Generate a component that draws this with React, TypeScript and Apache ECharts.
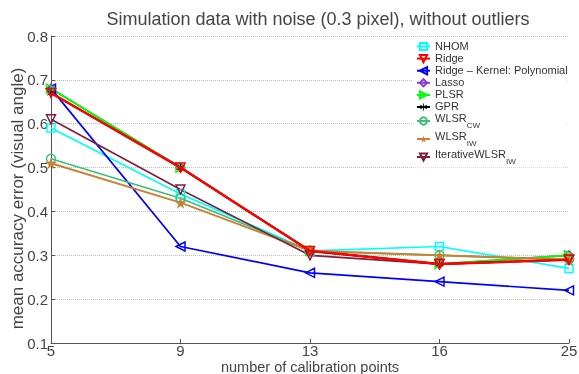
import React, { useEffect, useRef } from "react";
import * as echarts from "echarts";

const categories = ["5", "9", "13", "16", "25"];
const nhom = [0.59, 0.44, 0.31, 0.32, 0.27];
const ridge = [0.67, 0.5, 0.31, 0.28, 0.29];
const ridgeKernel = [0.68, 0.32, 0.26, 0.24, 0.22];
const lasso = [0.68, 0.5, 0.31, 0.28, 0.3];
const plsr = [0.68, 0.5, 0.31, 0.28, 0.3];
const gpr = [0.67, 0.5, 0.31, 0.28, 0.29];
const wlsrCW = [0.52, 0.43, 0.31, 0.3, 0.29];
const wlsrIW = [0.51, 0.42, 0.31, 0.3, 0.29];
const iterWlsrIW = [0.61, 0.45, 0.3, 0.28, 0.29];

const STAR =
  "path://M50 0 L61 35 L98 35 L68 57 L79 91 L50 70 L21 91 L32 57 L2 35 L39 35 Z";
const ASTER =
  "path://M45 0 H55 V38 L88 19 L93 28 L60 47 V53 L93 72 L88 81 L55 62 V100 H45 V62 L12 81 L7 72 L40 53 V47 L7 28 L12 19 L45 38 Z";

type S = {
  name: string;
  data: number[];
  color: string;
  symbol: string;
  rotate?: number;
  size?: number;
  width?: number;
  filled?: boolean;
  z?: number;
};

const seriesDefs: S[] = [
  { name: "NHOM", data: nhom, color: "#00ffff", symbol: "rect", size: 8 },
  { name: "Ridge", data: ridge, color: "#ff0000", symbol: "triangle", rotate: 180, width: 2.5, z: 5 },
  { name: "Ridge – Kernel: Polynomial", data: ridgeKernel, color: "#0000ff", symbol: "triangle", rotate: 90 },
  { name: "Lasso", data: lasso, color: "#8a3fd0", symbol: "diamond" },
  { name: "PLSR", data: plsr, color: "#00ff00", symbol: "triangle", rotate: -90, width: 2 },
  { name: "GPR", data: gpr, color: "#000000", symbol: ASTER, filled: true, size: 8 },
  { name: "WLSR_CW", data: wlsrCW, color: "#3cc07c", symbol: "circle" },
  { name: "WLSR_IW", data: wlsrIW, color: "#cc8033", symbol: STAR, filled: true, size: 12, width: 2 },
  { name: "IterativeWLSR_IW", data: iterWlsrIW, color: "#7f1f3a", symbol: "triangle", rotate: 180 },
];

function legendFormat(name: string): string {
  const i = name.indexOf("_");
  if (i < 0) return `{a|${name}}`;
  return `{a|${name.slice(0, i)}}{s|${name.slice(i + 1)}}`;
}

export default function App() {
  const ref = useRef<HTMLDivElement>(null);
  useEffect(() => {
    if (!ref.current) return;
    const chart = echarts.init(ref.current, undefined, { renderer: "svg" });
    const font = "'Liberation Sans', Arial, Helvetica, sans-serif";
    chart.setOption({
      animation: false,
      textStyle: { fontFamily: font },
      title: {
        text: "Simulation data with noise (0.3 pixel), without outliers",
        left: 313,
        textAlign: "center",
        top: 5,
        textStyle: { fontSize: 18, fontWeight: "normal", color: "#444", fontFamily: font },
      },
      grid: { left: 51, right: 10, top: 36, bottom: 31, containLabel: false, outerBoundsMode: "none" },
      legend: {
        orient: "vertical",
        left: 413,
        top: 38,
        backgroundColor: "#ffffff",
        padding: [2, 0, 2, 3],
        itemWidth: 13,
        itemHeight: 9,
        itemGap: 1,
        formatter: legendFormat,
        textStyle: {
          color: "#333",
          fontSize: 11,
          fontFamily: font,
          rich: {
            a: { fontSize: 11, fontFamily: font, color: "#333", lineHeight: 13, verticalAlign: "top" },
            s: { fontSize: 8, fontFamily: font, color: "#333", lineHeight: 17, verticalAlign: "bottom" },
          },
        },
        data: seriesDefs.map((s) => s.name),
      },
      xAxis: {
        type: "category",
        data: categories,
        boundaryGap: false,
        name: "number of calibration points",
        nameLocation: "middle",
        nameGap: 17,
        nameMoveOverlap: false,
        nameTextStyle: { fontSize: 14.5, lineHeight: 14, color: "#444", fontFamily: font },
        axisLine: { lineStyle: { color: "#555", width: 1 } },
        axisTick: { inside: true, length: 4, lineStyle: { color: "#555" } },
        axisLabel: { fontSize: 15, lineHeight: 13, color: "#444", margin: 1, fontFamily: font },
        splitLine: { show: false },
      },
      yAxis: {
        type: "value",
        min: 0.1,
        max: 0.8,
        interval: 0.1,
        name: "mean accuracy error (visual angle)",
        nameLocation: "middle",
        nameGap: 25,
        nameMoveOverlap: false,
        nameTextStyle: { fontSize: 17, color: "#444", fontFamily: font, padding: [0, 18, 0, 0] },
        axisLine: { show: true, lineStyle: { color: "#555", width: 1 } },
        axisTick: { show: true, inside: true, length: 4, lineStyle: { color: "#555" } },
        axisLabel: {
          fontSize: 15,
          color: "#444",
          margin: 3,
          fontFamily: font,
          formatter: (v: number) => v.toFixed(1),
        },
        splitLine: { show: true, lineStyle: { type: "dotted", color: "#bbb", width: 1 } },
      },
      series: seriesDefs.map((s) => ({
        type: "line",
        name: s.name,
        data: s.data,
        z: s.z ?? 2,
        symbol: s.symbol,
        symbolSize: s.size ?? 9,
        symbolRotate: s.rotate ?? 0,
        showSymbol: true,
        color: s.color,
        lineStyle: { color: s.color, width: s.width ?? 1.7 },
        itemStyle: {
          color: s.filled ? s.color : "rgba(255,255,255,0)",
          borderColor: s.color,
          borderWidth: s.filled ? 0 : 1.5,
        },
        emphasis: { disabled: true },
      })),
    });
    return () => chart.dispose();
  }, []);
  return (
    <div
      ref={ref}
      style={{ position: "fixed", left: 0, top: 0, width: 579, height: 374 }}
    />
  );
}
